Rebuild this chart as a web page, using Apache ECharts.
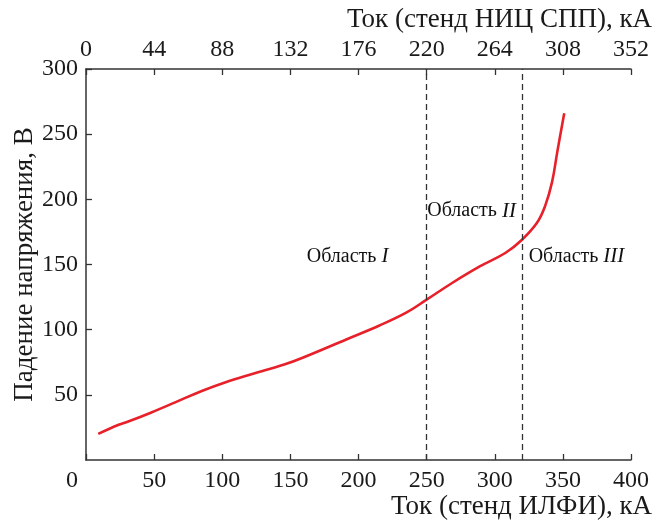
<!DOCTYPE html>
<html>
<head>
<meta charset="utf-8">
<script src="https://cdn.jsdelivr.net/npm/echarts@6/dist/echarts.min.js"></script>
<style>
  html, body { margin: 0; padding: 0; background: #fff; }
  #chart { width: 666px; height: 523px; }
</style>
</head>
<body>
<div id="chart"></div>
<script>
// ток (стенд ИЛФИ), кА  и  падение напряжения, В
const currentIlfi = [9, 24, 31, 48, 65, 85, 102, 122, 146, 159, 191, 215, 235, 250, 269, 289, 308, 320, 331, 337, 342, 346, 351];
const voltageDrop = [20, 27, 29.5, 36.5, 44, 53, 59.5, 66, 73.5, 78.5, 92.5, 103, 113, 123, 136, 148.5, 159, 169, 182, 195, 213, 237, 266];

// границы областей
const regionBounds = [250, 320];
const regionNames = ['I', 'II', 'III'];
const regionX = [192, 283, 360];
const regionY = [156, 191, 156];

const FONT = '"Liberation Serif", "DejaVu Serif", serif';
const AXIS_COLOR = '#333';
const TEXT_COLOR = '#1a1a1a';

const chart = echarts.init(document.getElementById('chart'));

const baseAxis = {
  type: 'value',
  axisLine: { show: true, lineStyle: { color: AXIS_COLOR, width: 1.5 } },
  axisTick: { show: true, inside: true, length: 6, lineStyle: { color: AXIS_COLOR, width: 1.3 } },
  splitLine: { show: false },
  axisLabel: { color: TEXT_COLOR, fontFamily: FONT, fontSize: 24 }
};

const option = {
  animation: false,
  backgroundColor: '#fff',
  grid: { left: 86, right: 35, top: 69, bottom: 63, containLabel: false, outerBoundsMode: 'none' },
  xAxis: [
    {
      ...baseAxis,
      position: 'bottom',
      min: 0,
      max: 400,
      interval: 50,
      axisLabel: {
        ...baseAxis.axisLabel,
        margin: 9,
        formatter: (v) => (v === 0 ? '{z|0}' : String(v)),
        rich: { z: { fontFamily: FONT, fontSize: 24, color: TEXT_COLOR, padding: [0, 28, 0, 0] } }
      }
    },
    {
      ...baseAxis,
      position: 'top',
      min: 0,
      max: 352,
      interval: 44,
      axisLabel: { ...baseAxis.axisLabel, margin: 7 }
    }
  ],
  yAxis: {
    ...baseAxis,
    min: 0,
    max: 300,
    interval: 50,
    name: 'Падение напряжения, В',
    nameLocation: 'middle',
    nameGap: 48,
    nameMoveOverlap: false,
    nameTextStyle: { fontFamily: FONT, fontSize: 27, color: TEXT_COLOR },
    axisLabel: { ...baseAxis.axisLabel, margin: 8, showMinLabel: false }
  },
  graphic: [
    {
      type: 'text',
      right: 14,
      top: 6,
      style: { text: 'Ток (стенд НИЦ СПП), кА', font: '27px ' + FONT, fill: TEXT_COLOR }
    },
    {
      type: 'text',
      right: 14,
      top: 493,
      style: { text: 'Ток (стенд ИЛФИ), кА', font: '27px ' + FONT, fill: TEXT_COLOR }
    }
  ],
  series: [
    {
      type: 'line',
      xAxisIndex: 0,
      data: currentIlfi.map((x, i) => [x, voltageDrop[i]]),
      smooth: 0.4,
      showSymbol: false,
      lineStyle: { color: '#e8202a', width: 2.6 },
      markLine: {
        silent: true,
        symbol: ['none', 'none'],
        label: { show: false },
        lineStyle: { color: AXIS_COLOR, type: [6, 4], width: 1.3 },
        data: regionBounds.map((x) => ({ xAxis: x }))
      }
    },
    {
      type: 'scatter',
      xAxisIndex: 0,
      silent: true,
      symbolSize: 1,
      itemStyle: { color: 'rgba(0,0,0,0)' },
      data: regionNames.map((n, i) => ({ value: [regionX[i], regionY[i]], name: n })),
      label: {
        show: true,
        position: 'inside',
        opacity: 1,
        color: '#000',
        formatter: (p) => '{a|Область }{b|' + p.name + '}',
        rich: {
          a: { fontFamily: FONT, fontSize: 20, color: '#111' },
          b: { fontFamily: FONT, fontSize: 21, fontStyle: 'italic', color: '#111' }
        }
      }
    }
  ]
};

chart.setOption(option);
</script>
</body>
</html>
